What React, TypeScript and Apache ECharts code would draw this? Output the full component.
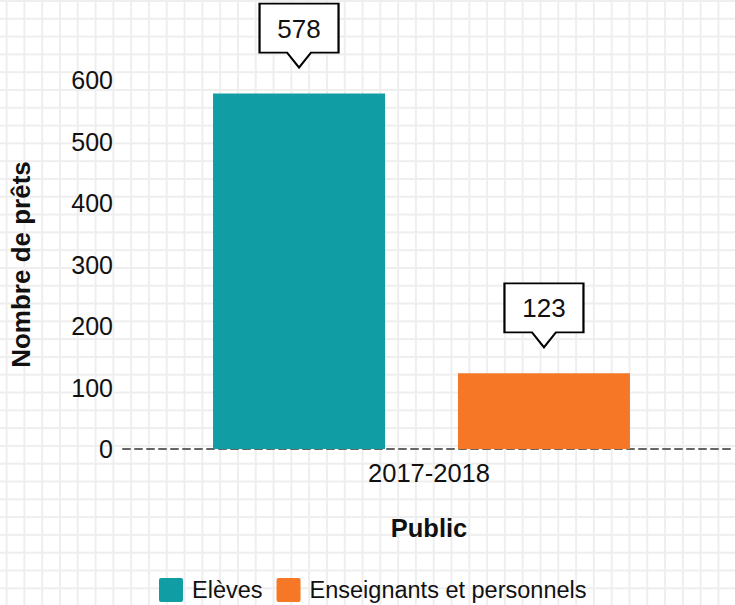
import React, { useEffect, useRef } from "react";
import * as echarts from "echarts";

const categories = ["2017-2018"];
const seriesNames = ["Elèves", "Enseignants et personnels"];
const eleves = [578];
const enseignants = [123];
const yMin = 0;
const yMax = 600;
const yInterval = 100;
const colors = ["#119DA4", "#F67826"];

const calloutPath = "path://M0,0L79,0L79,49L51.5,49L39.5,64L27.5,49L0,49Z";
const legendIcon = "path://M2,0L22,0Q24,0 24,2L24,22Q24,24 22,24L2,24Q0,24 0,22L0,2Q0,0 2,0Z";

function markPointFor() {
  return {
    symbol: calloutPath,
    symbolSize: [79, 64],
    symbolOffset: [0, -58],
    itemStyle: { color: "#ffffff", borderColor: "#000000", borderWidth: 2 },
    label: {
      show: true,
      position: "inside",
      offset: [0, -7],
      color: "#111111",
      fontSize: 26,
      fontFamily: "Liberation Sans, Arial, sans-serif",
      formatter: "{c}",
    },
    data: [{ type: "max", name: "max" }],
  };
}

export default function App() {
  const ref = useRef<HTMLDivElement>(null);
  useEffect(() => {
    if (!ref.current) return;
    const chart = echarts.init(ref.current, null, { renderer: "svg" });
    const font = "Liberation Sans, Arial, sans-serif";
    chart.setOption({
      animation: false,
      backgroundColor: "transparent",
      textStyle: { fontFamily: font },
      grid: [
        { left: 123, right: 16, top: 80, bottom: 156 },
        { left: 123, right: -4, top: 80, bottom: 156 },
      ],
      legend: {
        left: 159,
        top: 578,
        padding: 0,
        itemWidth: 24,
        itemHeight: 24,
        itemGap: 14,
        icon: legendIcon,
        textStyle: { fontSize: 23.5, color: "#111111", fontFamily: font, padding: [0, 0, 0, 4] },
        data: seriesNames,
      },
      xAxis: [
        { type: "category", gridIndex: 0, data: categories, show: false },
        {
          type: "category",
          gridIndex: 1,
          data: categories,
          axisLine: { show: true, lineStyle: { color: "#666666", width: 2, type: [7, 5] } },
          axisTick: { show: false },
          splitLine: { show: false },
          axisLabel: { fontSize: 25.5, color: "#111111", margin: 11, fontFamily: font },
          name: "Public",
          nameLocation: "middle",
          nameGap: 66,
          nameTextStyle: { fontSize: 25.5, fontWeight: "bold", color: "#111111", fontFamily: font },
        },
      ],
      yAxis: [
        {
          type: "value",
          gridIndex: 0,
          min: yMin,
          max: yMax,
          interval: yInterval,
          axisLine: { show: false },
          axisTick: { show: false },
          splitLine: { show: false },
          axisLabel: { fontSize: 25, color: "#111111", margin: 11, fontFamily: font },
          name: "Nombre de prêts",
          nameLocation: "middle",
          nameGap: 90,
          nameTextStyle: { fontSize: 26, fontWeight: "bold", color: "#111111", fontFamily: font },
        },
        { type: "value", gridIndex: 1, min: yMin, max: yMax, show: false },
      ],
      series: [
        {
          name: seriesNames[0],
          type: "bar",
          xAxisIndex: 0,
          yAxisIndex: 0,
          data: eleves,
          barWidth: 172,
          barGap: "42.4%",
          itemStyle: { color: colors[0] },
          markPoint: markPointFor(),
        },
        {
          name: seriesNames[1],
          type: "bar",
          xAxisIndex: 0,
          yAxisIndex: 0,
          data: enseignants,
          barWidth: 172,
          barGap: "42.4%",
          itemStyle: { color: colors[1] },
          markPoint: markPointFor(),
        },
      ],
    });
    return () => chart.dispose();
  }, []);
  return (
    <div
      ref={ref}
      style={{
        position: "absolute",
        left: 0,
        top: 0,
        width: 735,
        height: 605,
        backgroundColor: "#ffffff",
        backgroundImage:
          "linear-gradient(to right, #eeeeee 0px, #eeeeee 2px, transparent 2px), linear-gradient(to bottom, #eeeeee 0px, #eeeeee 2px, transparent 2px)",
        backgroundSize: "17.8px 17.8px",
        backgroundPosition: "5.6px 0px",
      }}
    />
  );
}
